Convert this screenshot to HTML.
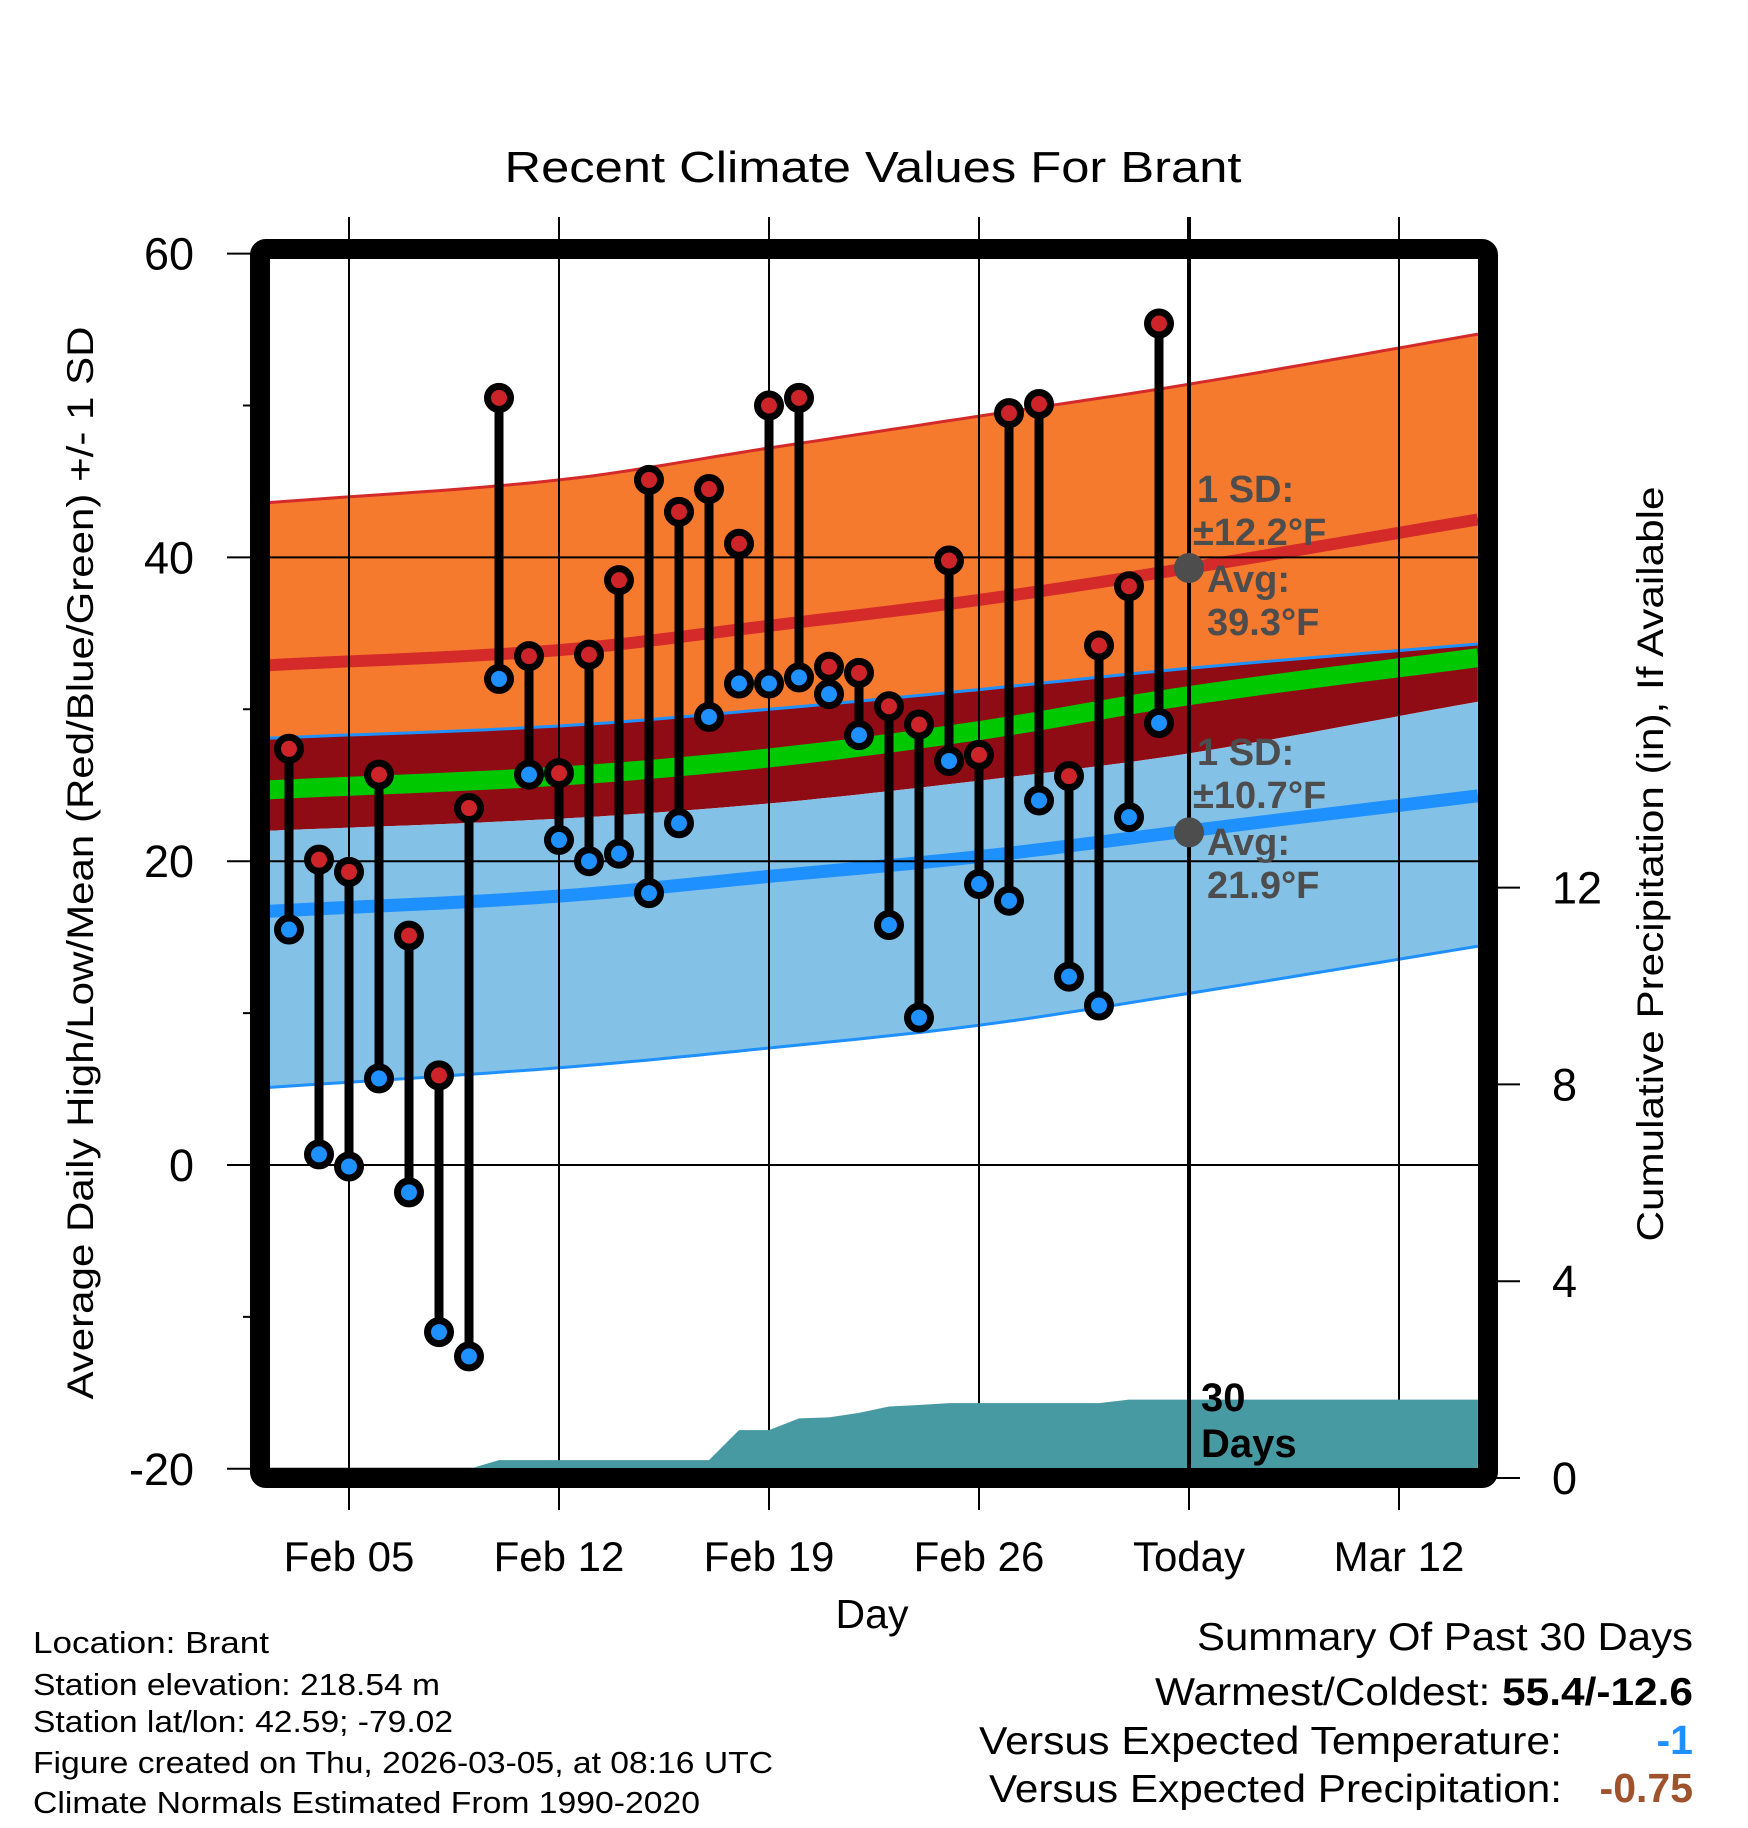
<!DOCTYPE html>
<html><head><meta charset="utf-8"><style>
html,body{margin:0;padding:0;background:#fff;}
svg{display:block;font-family:"Liberation Sans",sans-serif;}
</style></head><body>
<svg id="chart" width="1748" height="1828" viewBox="0 0 1748 1828" xmlns="http://www.w3.org/2000/svg">
<defs><clipPath id="plotclip"><rect x="270" y="259" width="1208" height="1210"/></clipPath></defs>
<g id="bands" clip-path="url(#plotclip)"></g>
<g id="grid"></g>
<g id="precip" clip-path="url(#plotclip)"></g>
<g id="bars"></g>
<rect x="260" y="249" width="1228" height="1229" rx="6" fill="none" stroke="#000" stroke-width="20"/>
<g id="axes"></g>
<text x="873" y="182" font-size="44" text-anchor="middle" textLength="737" lengthAdjust="spacingAndGlyphs">Recent Climate Values For Brant</text>
<text transform="translate(93,863) rotate(-90)" font-size="37" text-anchor="middle" textLength="1073" lengthAdjust="spacingAndGlyphs">Average Daily High/Low/Mean (Red/Blue/Green) +/- 1 SD</text>
<text transform="translate(1663,864) rotate(-90)" font-size="37" text-anchor="middle" textLength="755" lengthAdjust="spacingAndGlyphs">Cumulative Precipitation (in), If Available</text>
<text x="872" y="1628" font-size="41" text-anchor="middle">Day</text>
<g fill="#4d4d4d" font-weight="bold" font-size="38">
<text x="1197" y="502">1 SD:</text>
<text x="1193" y="545">±12.2°F</text>
<text x="1207" y="592">Avg:</text>
<text x="1207" y="635">39.3°F</text>
</g>
<g fill="#4d4d4d" font-weight="bold" font-size="38">
<text x="1197" y="765">1 SD:</text>
<text x="1193" y="808">±10.7°F</text>
<text x="1207" y="855">Avg:</text>
<text x="1207" y="898">21.9°F</text>
</g>
<g font-weight="bold" font-size="40">
<text x="1201" y="1411">30</text>
<text x="1201" y="1457">Days</text>
</g>
<g font-size="31">
<text x="33" y="1653" textLength="236" lengthAdjust="spacingAndGlyphs">Location: Brant</text>
<text x="33" y="1695" textLength="407" lengthAdjust="spacingAndGlyphs">Station elevation: 218.54 m</text>
<text x="33" y="1732" textLength="420" lengthAdjust="spacingAndGlyphs">Station lat/lon: 42.59; -79.02</text>
<text x="33" y="1773" textLength="740" lengthAdjust="spacingAndGlyphs">Figure created on Thu, 2026-03-05, at 08:16 UTC</text>
<text x="33" y="1813" textLength="667" lengthAdjust="spacingAndGlyphs">Climate Normals Estimated From 1990-2020</text>
</g>
<g font-size="39">
<text x="1693" y="1650" text-anchor="end" textLength="496" lengthAdjust="spacingAndGlyphs">Summary Of Past 30 Days</text>
<text x="1693" y="1705" text-anchor="end" textLength="538" lengthAdjust="spacingAndGlyphs">Warmest/Coldest: <tspan font-weight="bold">55.4/-12.6</tspan></text>
<text x="1562" y="1754" text-anchor="end" textLength="583" lengthAdjust="spacingAndGlyphs">Versus Expected Temperature:</text>
<text x="1693" y="1754" text-anchor="end" fill="#1e90ff" font-weight="bold" font-size="41">-1</text>
<text x="1562" y="1802" text-anchor="end" textLength="573" lengthAdjust="spacingAndGlyphs">Versus Expected Precipitation:</text>
<text x="1693" y="1802" text-anchor="end" fill="#a0522d" font-weight="bold" font-size="41">-0.75</text>
</g>
</svg>
<script>
// daily data (Feb 03 .. Mar 04)
const highs = [27.4,20.1,19.3,25.7,15.1,5.9,23.5,50.5,33.5,25.8,33.6,38.5,45.1,43.0,44.5,40.9,50.0,50.5,32.8,32.4,30.2,29.0,39.8,27.0,49.5,50.1,25.6,34.2,38.1,55.4];
const lows  = [15.5,0.7,-0.1,5.7,-1.8,-11.0,-12.6,32.0,25.7,21.4,20.0,20.5,17.9,22.5,29.5,31.7,31.7,32.1,31.0,28.3,15.8,9.7,26.6,18.5,17.4,24.0,12.4,10.5,22.9,29.1];
const precip = [0,0,0,0,0,0,0,0.18,0.18,0.18,0.18,0.18,0.18,0.18,0.18,0.79,0.79,1.03,1.05,1.14,1.27,1.30,1.34,1.34,1.34,1.34,1.34,1.34,1.41,1.41];
// normals sampled at day offsets
const normDays  = [-0.7,9,16,23,30,39.63];
const highTop   = [43.6,45.1,47.2,49.3,51.4,54.7];
const highMean  = [32.9,33.9,35.5,37.2,39.3,42.5];
const lowTop    = [28.1,28.9,30.0,31.3,32.7,34.3];
const meanAvg   = [24.7,25.6,26.8,28.6,30.9,33.4];
const highBot   = [22.0,22.8,23.8,25.3,27.1,30.5];
const lowMean   = [16.7,17.7,19.0,20.3,22.0,24.3];
const lowBot    = [5.1,6.4,7.7,9.2,11.3,14.4];
const yTicks = [60,40,20,0,-20];
const yMinor = [50,30,10,-10];
const xTickDays = [2,9,16,23,30,37];
const xTickLabels = ["Feb 05","Feb 12","Feb 19","Feb 26","Today","Mar 12"];
const pTicks = [0,4,8,12];
const todayDay = 30;
const highAvgToday = 39.3, lowAvgToday = 21.9;

const NS="http://www.w3.org/2000/svg";
const X = d => 289 + 30*d;
const Y = t => 1165 - t*15.19;
const P = p => 1469 - p*49.2;
const PT = p => 1478 - p*49.2;
function mk(tag, attrs, parent){const e=document.createElementNS(NS,tag);for(const k in attrs)e.setAttribute(k,attrs[k]);parent.appendChild(e);return e;}
const bands=document.getElementById('bands'), grid=document.getElementById('grid'), pr=document.getElementById('precip'), bars=document.getElementById('bars'), axes=document.getElementById('axes');
// smooth (Catmull-Rom) sampling of a normal series
function smooth(arr){
  const out=[]; const n=normDays.length;
  for(let i=0;i<n-1;i++){
    const x0=normDays[Math.max(i-1,0)], x1=normDays[i], x2=normDays[i+1], x3=normDays[Math.min(i+2,n-1)];
    const y0=arr[Math.max(i-1,0)], y1=arr[i], y2=arr[i+1], y3=arr[Math.min(i+2,n-1)];
    const m1=(y2-y0)/((x2-x0)||1)*(x2-x1), m2=(y3-y1)/((x3-x1)||1)*(x2-x1);
    for(let s=0;s<12;s++){
      const t=s/12, t2=t*t, t3=t2*t;
      const y=(2*t3-3*t2+1)*y1+(t3-2*t2+t)*m1+(-2*t3+3*t2)*y2+(t3-t2)*m2;
      out.push(X(x1+(x2-x1)*t).toFixed(1)+','+Y(y).toFixed(1));
    }
  }
  out.push(X(normDays[n-1])+','+Y(arr[n-1]));
  return out;
}
function band(top,bot,fill,name){
  const p=smooth(top).concat(smooth(bot).reverse()).join(' ');
  const e=mk('polygon',{points:p,fill:fill},bands);
  
  
}
function line(arr,stroke,w,name){
  const e=mk('polyline',{points:smooth(arr).join(' '),fill:'none',stroke:stroke,'stroke-width':w},bands);
  
  
}
band(highTop,lowTop,'#f57a2e','high-sd-band');
band(lowTop,highBot,'#8f0c15','overlap-band');
band(highBot,lowBot,'#83c1e7','low-sd-band');
line(highTop,'#d42a2a',3,'high-plus-sd-line');
line(lowTop,'#1e90ff',3,'low-plus-sd-line');
line(lowBot,'#1e90ff',3,'low-minus-sd-line');
line(highMean,'#d42a2a',12,'mean-high-line');
line(meanAvg,'#00c800',19,'mean-avg-line');
line(lowMean,'#1e90ff',13,'mean-low-line');

// grid
yTicks.forEach(t=>{
  const e=mk('line',{x1:227,x2:1478,y1:Y(t),y2:Y(t),stroke:'#000','stroke-width':2},grid);
  
  
  const l=mk('text',{x:194,y:Y(t)+16,'font-size':45,'text-anchor':'end'},axes);
  l.textContent=t;
  
  
});
yMinor.forEach(t=>{
  const e=mk('line',{x1:243,x2:260,y1:Y(t),y2:Y(t),stroke:'#000','stroke-width':2},grid);
  
  
});
xTickDays.forEach((d,i)=>{
  const e=mk('line',{x1:X(d),x2:X(d),y1:217,y2:1510,stroke:'#000','stroke-width':2},grid);
  
  
  const l=mk('text',{x:X(d),y:1571,'font-size':42,'text-anchor':'middle'},axes);
  l.textContent=xTickLabels[i];
  
  
});
pTicks.forEach(p=>{
  const e=mk('line',{x1:1488,x2:1520,y1:PT(p),y2:PT(p),stroke:'#000','stroke-width':2},axes);
  
  
  const l=mk('text',{x:1552,y:PT(p)+16,'font-size':45},axes);
  l.textContent=p;
  
  
});

// precip area
(function(){
  let p=[X(-0.7)+','+P(0)];
  precip.forEach((v,i)=>p.push(X(i)+','+P(v)));
  p.push(X(39.63)+','+P(precip[precip.length-1]));
  p.push(X(39.63)+','+P(0));
  const e=mk('polygon',{points:p.join(' '),fill:'#479aa2'},pr);
  
  
})();

// today line
(function(){
  const e=mk('line',{x1:X(todayDay),x2:X(todayDay),y1:217,y2:1468,stroke:'#000','stroke-width':4},bars);
  
  
})();

// bars
highs.forEach((h,i)=>{
  const g=mk('g',{},bars);
  
  
  mk('line',{x1:X(i),x2:X(i),y1:Y(h),y2:Y(lows[i]),stroke:'#000','stroke-width':9},g);
  const c1=mk('circle',{cx:X(i),cy:Y(h),r:11.5,fill:'#cc2428',stroke:'#000','stroke-width':7},g);
  
  
  const c2=mk('circle',{cx:X(i),cy:Y(lows[i]),r:11.5,fill:'#1e90ff',stroke:'#000','stroke-width':7},g);
  
  
});
// avg markers
[highAvgToday,lowAvgToday].forEach(v=>{
  const c=mk('circle',{cx:X(todayDay),cy:Y(v),r:15,fill:'#4d4d4d'},bars);
  
  
});
</script>
</body></html>
